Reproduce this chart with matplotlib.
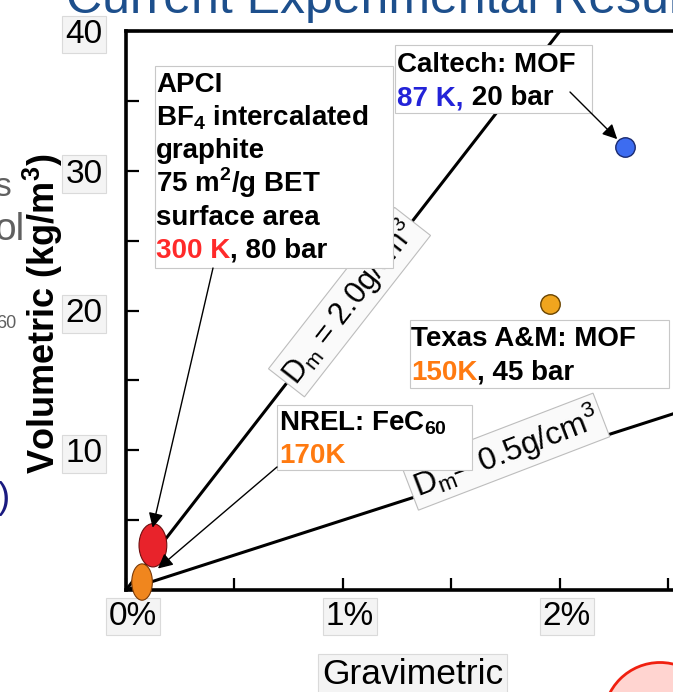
import matplotlib
matplotlib.use("Agg")
import matplotlib.pyplot as plt
import numpy as np
from matplotlib.patches import Ellipse, Rectangle
from matplotlib.transforms import ScaledTranslation

plt.rcParams['font.family'] = ['Liberation Sans', 'DejaVu Sans']
plt.rcParams['mathtext.fontset'] = 'custom'
plt.rcParams['mathtext.rm'] = 'Liberation Sans'
plt.rcParams['mathtext.bf'] = 'Liberation Sans:bold'

W, H = 673, 692

# ---- data ----
densities = [2.0, 0.5]                     # g/cm3 lines
density_labels = ["D$_\\mathrm{m}$ = 2.0g/cm$^\\mathrm{3}$",
                  "D$_\\mathrm{m}$\u2013 0.5g/cm$^\\mathrm{3}$"]
sites = ["APCI", "NREL", "Caltech", "Texas A&M"]
grav = [0.124, 0.074, 2.30, 1.954]         # wt %
vol = [3.2, 0.57, 31.7, 20.5]              # kg/m3
xticks = [0, 1, 2]
xticklabels = ["0%", "1%", "2%"]
yticks = [10, 20, 30, 40]


def fpos(px, py):
    return px / W, 1 - py / H


fig = plt.figure(figsize=(W / 100, H / 100), dpi=100)
ax = fig.add_axes([126 / W, 1 - 590 / H, 3 * 217 / W, 559 / H])

# density lines
xx = np.linspace(0, 3, 50)
for d in densities:
    ax.plot(xx, d * 10 * xx, color='k', lw=2.2, zorder=2, solid_capstyle='butt')

# markers
ax.add_patch(Ellipse((grav[0], vol[0]), 0.128, 3.1, fc='#e8232b', ec='#6e0f0f',
                     lw=0.8, zorder=4, clip_on=False))
ax.add_patch(Ellipse((grav[1], vol[1]), 0.095, 2.6, fc='#f0861e', ec='#7a3a08',
                     lw=0.8, zorder=5, clip_on=False))
ax.plot(grav[2], vol[2], 'o', ms=14, mfc='#3d6cf0', mec='#1a2a70', mew=1, zorder=4)
ax.plot(grav[3], vol[3], 'o', ms=14, mfc='#f0a51e', mec='#6a4400', mew=1, zorder=4)

# axes styling
ax.set_xlim(0, 3)
ax.set_ylim(0, 40)
for s in ['left', 'bottom', 'top']:
    ax.spines[s].set_linewidth(2.6)
ax.spines['right'].set_visible(False)
ax.set_xticks(xticks)
ax.set_xticklabels(xticklabels)
ax.set_xticks([0.5, 1.5, 2.5], minor=True)
ax.set_yticks(yticks)
ax.set_yticks([5, 15, 25, 35], minor=True)
ax.tick_params(which='both', direction='in', length=9, width=1.6, labelsize=24)
ax.tick_params(axis='y', pad=17)
ax.tick_params(axis='x', pad=8)
box_style = dict(boxstyle='square,pad=0.1', fc='#f4f4f4', ec='#dadada', lw=0.8)
for lab in ax.get_xticklabels() + ax.get_yticklabels():
    lab.set_bbox(box_style)
for lab in ax.get_xticklabels():
    lab.set_transform(lab.get_transform() + ScaledTranslation(0.07, 0, fig.dpi_scale_trans))

fig.text(*fpos(43, 314), "Volumetric (kg/m$^\\mathbf{3}$)", rotation=90, ha='center',
         va='center', fontsize=26, fontweight='bold')
fig.text(*fpos(322, 684), "Gravimetric", ha='left', va='baseline', fontsize=25.5,
         bbox=box_style)

# density labels
ax.text(1.03, 20.6, density_labels[0], rotation=52, rotation_mode='anchor',
        ha='center', va='center', fontsize=22, zorder=6,
        bbox=dict(boxstyle='square,pad=0.12', fc='#fafafa', ec='#bdbdbd', lw=0.8))
ax.text(1.75, 9.9, density_labels[1], rotation=21, rotation_mode='anchor',
        ha='center', va='center', fontsize=23, zorder=6,
        bbox=dict(boxstyle='square,pad=0.12', fc='#fafafa', ec='#bdbdbd', lw=0.8))


def note_box(x0, y0, x1, y1):
    ax.add_patch(Rectangle(fpos(x0, y1), (x1 - x0) / W, (y1 - y0) / H,
                           transform=fig.transFigure, fc='white', ec='#c8c8c8',
                           lw=0.8, zorder=7, clip_on=False))


def note_line(px, py, parts, size=20):
    t = None
    for txt, col in parts:
        if t is None:
            t = ax.text(*fpos(px, py), txt, transform=fig.transFigure, color=col,
                        fontsize=size, fontweight='bold', ha='left', va='baseline',
                        zorder=8)
        else:
            t = ax.annotate(txt, xy=(1, 0), xycoords=t, color=col, fontsize=size,
                            fontweight='bold', ha='left', va='bottom', zorder=8)
    return t


# APCI note
note_box(155, 66, 393, 268)
apci_lines = [[("APCI", 'k')],
              [("BF$_\\mathbf{4}$ intercalated", 'k')],
              [("graphite", 'k')],
              [("75 m$^\\mathbf{2}$/g BET", 'k')],
              [("surface area", 'k')],
              [("300 K", '#ff2a2a'), (", 80 bar", 'k')]]
for i, parts in enumerate(apci_lines):
    note_line(156, 92 + i * 33.2, parts)

# Caltech note
note_box(395, 45, 592, 113)
note_line(397, 72, [("Caltech: MOF", 'k')])
note_line(397, 105, [("87 K,", '#2323d8'), (" 20 bar", 'k')])

# Texas note
note_box(410, 320, 669, 388)
note_line(411, 346, [("Texas A&M: MOF", 'k')])
note_line(411, 380, [("150K", '#ff7a10'), (", 45 bar", 'k')])

# NREL note
note_box(277, 405, 472, 470)
note_line(279, 430, [("NREL: FeC$_\\mathbf{60}$", 'k')])
note_line(279, 463, [("170K", '#ff7a10')])

# arrows
arrow = dict(arrowstyle='-|>', color='k', lw=1.0, mutation_scale=22, shrinkA=0)
ax.annotate('', xy=(grav[0] - 0.02, vol[0]), xytext=fpos(213, 268), textcoords='figure fraction',
            arrowprops=dict(arrow, shrinkB=13), zorder=9)
ax.annotate('', xy=(grav[1], vol[1]), xytext=fpos(277, 467), textcoords='figure fraction',
            arrowprops=dict(arrow, shrinkB=15), zorder=9)
ax.annotate('', xy=(grav[2], vol[2]), xytext=fpos(570, 92), textcoords='figure fraction',
            arrowprops=dict(arrow, shrinkB=8), zorder=9)

# slide fragments around the chart
fig.text(*fpos(66, 13), "Current Experimental Results", color='#1d4f8c', fontsize=36,
         ha='left', va='baseline')
fig.text(*fpos(-6, 196), "s", color='#606060', fontsize=24, ha='left', va='baseline')
fig.text(*fpos(-6, 240), "ol", color='#606060', fontsize=28, ha='left', va='baseline')
fig.text(*fpos(-4, 328), "60", color='#606060', fontsize=13, ha='left', va='baseline')
fig.text(*fpos(-2, 508), ")", color='#1a1a80', fontsize=26, ha='left', va='baseline')
fig.add_artist(Ellipse(fpos(660, 719), 113 / W, 113 / H, transform=fig.transFigure,
                       fc='#ffd4d0', ec='#f02010', lw=2))

fig.savefig("out.png", dpi=100)
